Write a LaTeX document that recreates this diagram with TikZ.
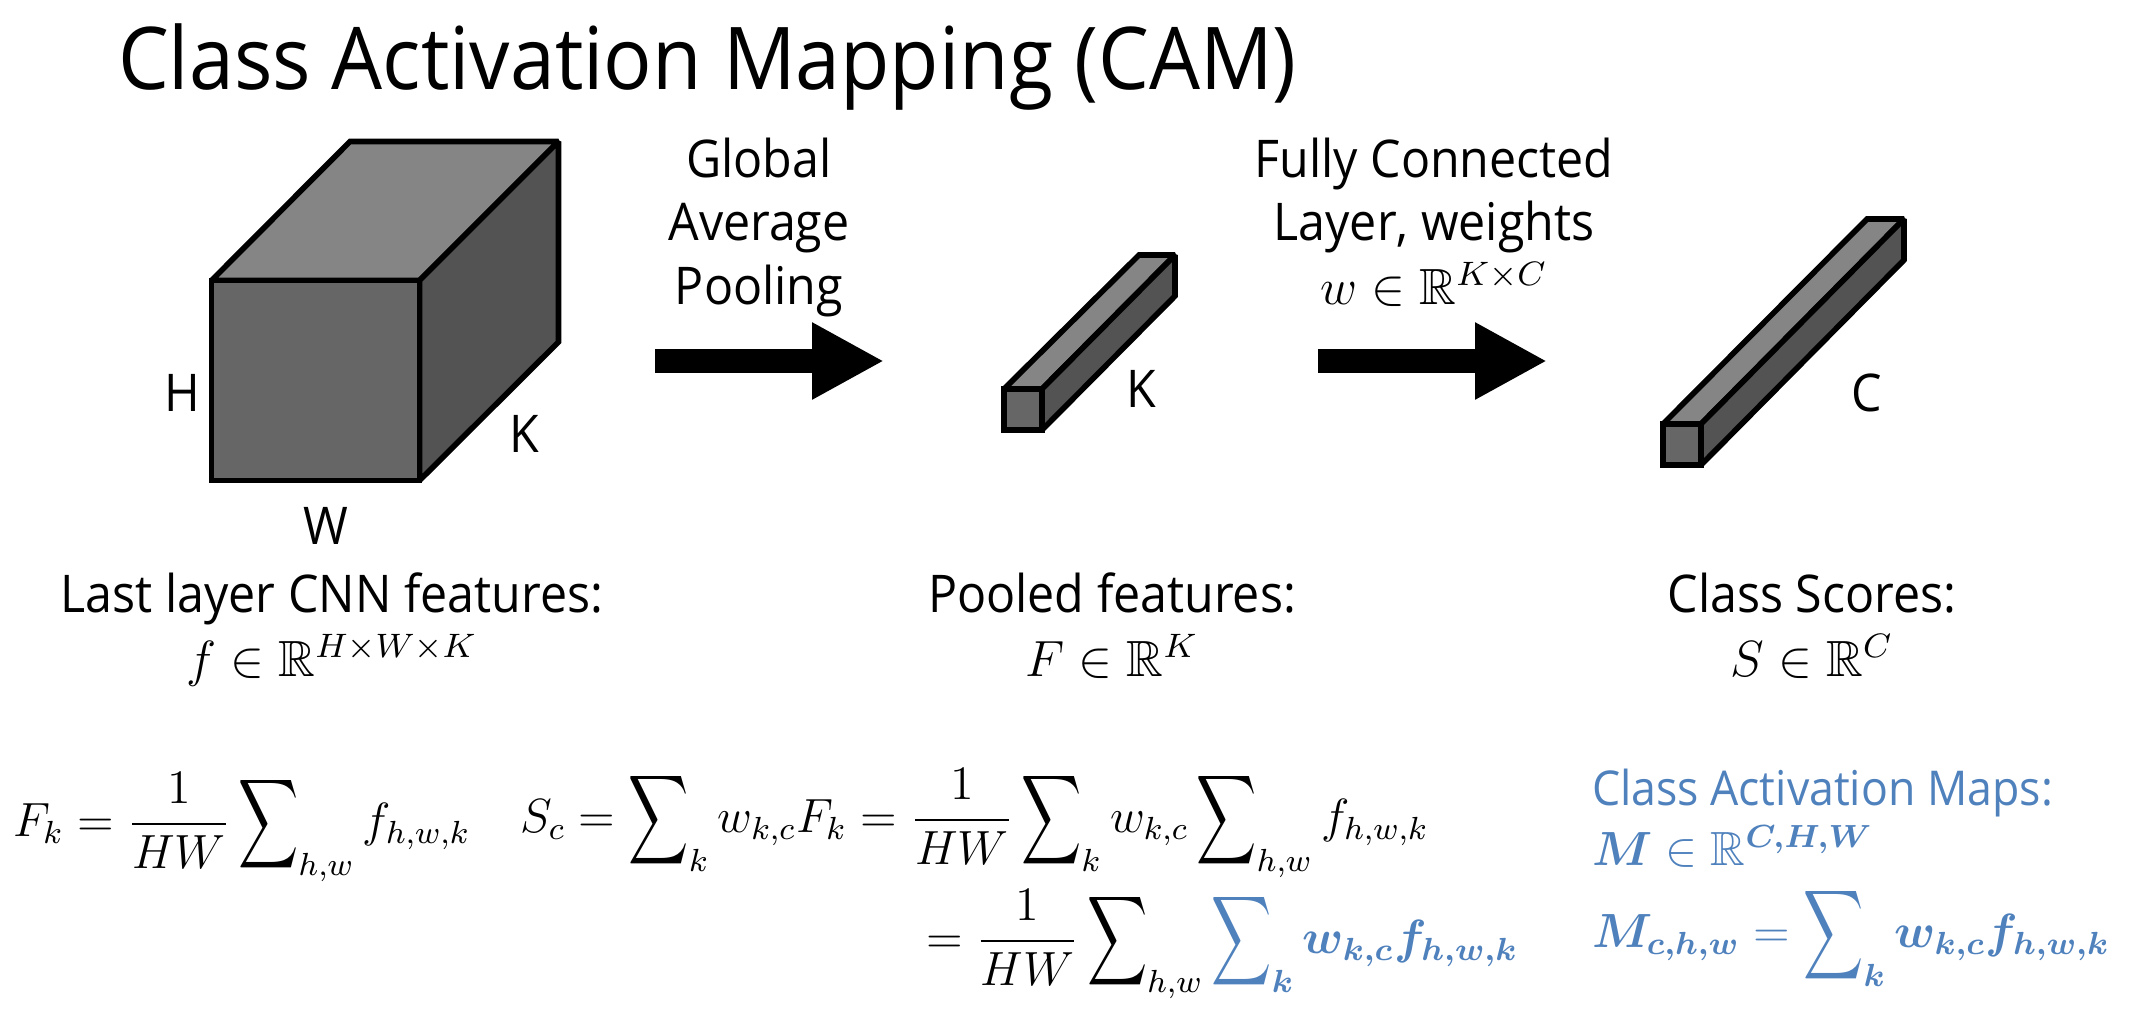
\documentclass[tikz,border=0pt]{standalone}
\usepackage{amsmath,amssymb,bm}
\usepackage{fontspec}
\setmainfont[FakeStretch=0.93, Scale=1.083]{Open Sans}
\newfontfamily\mapfont[FakeStretch=0.93]{Open Sans}
\usetikzlibrary{arrows.meta}
\definecolor{azulcam}{RGB}{79,129,189}
\definecolor{topface}{RGB}{133,133,133}
\definecolor{frontface}{RGB}{102,102,102}
\definecolor{sideface}{RGB}{83,83,83}
\newcommand{\bigsum}{\mathop{\vcenter{\hbox{\scalebox{0.87}[1.3]{$\displaystyle\sum$}}}}\nolimits}
\newcommand{\frachw}{\dfrac{1}{HW}}
\newcommand{\grande}[1]{\scalebox{1.06}{$#1$}}

\begin{document}
\begin{tikzpicture}[
	x=0.25pt, y=-0.25pt,
	every node/.style = {inner sep=0pt, outer sep=0pt},
	txt/.style = {font=\fontsize{12}{15.8}\selectfont, align=center, anchor=base},
	dim/.style = {font=\fontsize{12}{13}\selectfont},
	eqn/.style = {font=\fontsize{12}{14}\selectfont, anchor=base west},
	topf/.style = {fill=topface, draw=black, line width=1.4pt, line join=miter, miter limit=2},
	frontf/.style = {fill=frontface, draw=black, line width=1.4pt, line join=miter, miter limit=2},
	sidef/.style = {fill=sideface, draw=black, line width=1.4pt, line join=miter, miter limit=2},
	flecha/.style = {line width=6pt, -{Triangle[length=18pt, width=18pt]}}
	]
	
	\useasboundingbox (0,0) rectangle (2140,1008);
	
	\node[anchor=base west, font=\fontsize{20}{24}\selectfont] (titulo) at (118,89) {Class Activation Mapping (CAM)};
	
	\filldraw[topf] (211.5,280.5) -- (350,141.5) -- (558.5,141.5) -- (419.5,280.5) -- cycle;
	\filldraw[sidef] (419.5,280.5) -- (558.5,141.5) -- (558.5,342) -- (419.5,480.5) -- cycle;
	\filldraw[frontf] (211.5,280.5) rectangle (419.5,480.5);
	
	\filldraw[topf] (1004,389) -- (1139,255) -- (1175,255) -- (1042,389) -- cycle;
	\filldraw[sidef] (1042,389) -- (1175,255) -- (1175,296) -- (1042,430) -- cycle;
	\filldraw[frontf] (1004,389) rectangle (1042,430);
	
	\filldraw[topf] (1663,424) -- (1867,219) -- (1904,219) -- (1701,424) -- cycle;
	\filldraw[sidef] (1701,424) -- (1904,219) -- (1904,260) -- (1701,465) -- cycle;
	\filldraw[frontf] (1663,424) rectangle (1701,465);
	
	\node[dim] (dimH) at (182,393) {H};
	\node[dim] (dimW) at (326,526) {W};
	\node[dim] (dimK) at (524,434) {K};
	\node[dim] (dimKb) at (1141,389) {K};
	\node[dim] (dimC) at (1867,393) {C};
	
	\coordinate (gapA) at (655,361);
	\coordinate (gapB) at (884,361);
	\coordinate (fcA) at (1318,361);
	\coordinate (fcB) at (1547,361);
	\draw[flecha] (gapA) -- (gapB);
	\draw[flecha] (fcA) -- (fcB);
	
	\node[txt] (gap) at (759,304) {Global\\Average\\Pooling};
	\node[txt] (fc) at (1434,304) {Fully Connected\\Layer, weights\\\grande{w\in\mathbb{R}^{K\times C}}};
	
	\node[txt] (ultima) at (332,676) {Last layer CNN features:\\\grande{f\in\mathbb{R}^{H\times W\times K}}};
	\node[txt] (pooled) at (1112,676) {Pooled features:\\\grande{F\in\mathbb{R}^{K}}};
	\node[txt] (scores) at (1812,676) {Class Scores:\\\grande{S\in\mathbb{R}^{C}}};
	
	\node[eqn] (eqF) at (13,836) {$F_k=\frachw\bigsum_{h,w}f_{h,w,k}$};
	\node[eqn] (eqS) at (520,832) {$S_c=\bigsum_k w_{k,c}F_k=\frachw\bigsum_k w_{k,c}\bigsum_{h,w}f_{h,w,k}$};
	\node[eqn] (eqSb) at (926,953) {$=\frachw\bigsum_{h,w}\textcolor{azulcam}{\bm{\bigsum_k w_{k,c}f_{h,w,k}}}$};
	
	\node[eqn, text=azulcam] (mapas) at (1592,805) {\mapfont Class Activation Maps:};
	\node[eqn, text=azulcam] (mapasM) at (1592,865) {$\bm{M}\in\mathbb{R}^{\bm{C,H,W}}$};
	\node[eqn, text=azulcam] (mapasEq) at (1592,947) {$\bm{M_{c,h,w}}=\bigsum_{\bm{k}}\bm{w_{k,c}f_{h,w,k}}$};
	
\end{tikzpicture}
\end{document}
